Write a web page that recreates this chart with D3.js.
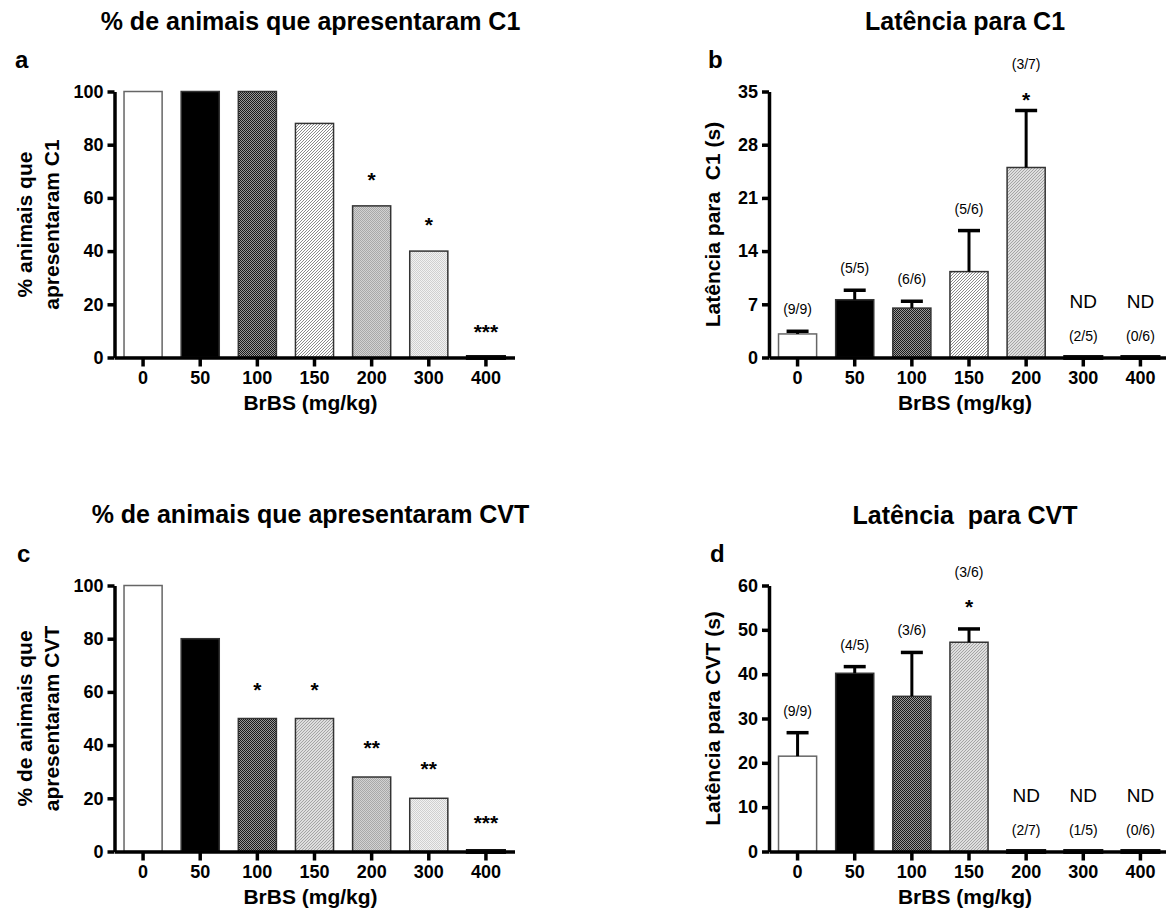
<!DOCTYPE html>
<html>
<head>
<meta charset="utf-8">
<script src="https://cdn.jsdelivr.net/npm/d3@7"></script>
<style>
  body { margin: 0; background: #fff; }
  text { font-family: "Liberation Sans", Arial, sans-serif; fill: #000; white-space: pre; }
</style>
</head>
<body>
<script>
var width = 1166, height = 918;

// data
var doses = ["0", "50", "100", "150", "200", "300", "400"];

var pctC1 = [100, 100, 100, 88, 57, 40, 0];
var sigPctC1 = ["", "", "", "", "*", "*", "***"];

var latC1 = [3.1, 7.6, 6.5, 11.3, 25, 0, 0];
var semLatC1 = [0.35, 1.25, 0.9, 5.4, 7.5, 0, 0];
var nLatC1 = ["(9/9)", "(5/5)", "(6/6)", "(5/6)", "(3/7)", "(2/5)", "(0/6)"];
var sigLatC1 = ["", "", "", "", "*", "", ""];
var ndLatC1 = [false, false, false, false, false, true, true];

var pctCVT = [100, 80, 50, 50, 28, 20, 0];
var sigPctCVT = ["", "", "*", "*", "**", "**", "***"];

var latCVT = [21.5, 40.2, 35, 47.2, 0, 0, 0];
var semLatCVT = [5.3, 1.5, 9.9, 3.0, 0, 0, 0];
var nLatCVT = ["(9/9)", "(4/5)", "(3/6)", "(3/6)", "(2/7)", "(1/5)", "(0/6)"];
var sigLatCVT = ["", "", "", "*", "", "", ""];
var ndLatCVT = [false, false, false, false, true, true, true];

var svg = d3.select("body")
.append("svg")
.attr("width", width)
.attr("height", height);

// bar textures
var defs = svg.append("defs");

function checker(id, a, b) {
	var p = defs.append("pattern")
	.attr("id", id)
	.attr("patternUnits", "userSpaceOnUse")
	.attr("width", 2)
	.attr("height", 2);
	p.append("rect").attr("width", 2).attr("height", 2).attr("fill", b);
	p.append("rect").attr("width", 1).attr("height", 1).attr("fill", a);
	p.append("rect").attr("x", 1).attr("y", 1).attr("width", 1).attr("height", 1).attr("fill", a);
}
function hatch(id, bg, fg) {
	var p = defs.append("pattern")
	.attr("id", id)
	.attr("patternUnits", "userSpaceOnUse")
	.attr("width", 3)
	.attr("height", 3);
	p.append("rect").attr("width", 3).attr("height", 3).attr("fill", bg);
	p.append("path")
	.attr("d", "M-1,1 l2,-2 M0,3 l3,-3 M2,4 l2,-2")
	.attr("stroke", fg)
	.attr("stroke-width", 1);
}
checker("checker", "#1a1a1a", "#999");
hatch("hatch", "#fff", "#8a8a8a");
hatch("grayHatch", "#dedede", "#a4a4a4");
checker("grayFine", "#a8a8a8", "#d2d2d2");
checker("lightDots", "#d0d0d0", "#f2f2f2");

var fillOf = {
	white: "#fff", black: "#000", checker: "url(#checker)", hatch: "url(#hatch)",
	grayHatch: "url(#grayHatch)", grayFine: "url(#grayFine)", lightDots: "url(#lightDots)"
};

function drawPanel(o) {
	var g = svg.append("g");

	var x = d3.scaleBand()
	.domain(doses)
	.range([o.left, o.left + 400])
	.paddingInner(1 / 3)
	.paddingOuter(1 / 6);

	var y = d3.scaleLinear()
	.domain([0, o.max])
	.range([o.bottom, o.bottom - 266]);

	var bw = x.bandwidth();
	var rows = o.values.map(function(v, i) { return {dose: doses[i], v: v, i: i}; });

	// bars
	g.selectAll(".bar")
	.data(rows.filter(function(d) { return d.v > 0; }))
	.enter()
	.append("rect")
	.attr("class", "bar")
	.attr("x", function(d) { return x(d.dose); })
	.attr("y", function(d) { return y(d.v); })
	.attr("width", bw)
	.attr("height", function(d) { return y(0) - y(d.v); })
	.attr("fill", function(d) { return fillOf[o.fills[d.i]]; })
	.attr("stroke", function(d) { return d.i === 0 ? "#666" : "#333"; })
	.attr("stroke-width", 1.5);

	// zero bars sit on the axis as a thick segment
	g.selectAll(".zeroBar")
	.data(rows.filter(function(d) { return d.v === 0; }))
	.enter()
	.append("line")
	.attr("class", "zeroBar")
	.attr("x1", function(d) { return x(d.dose) - 1; })
	.attr("x2", function(d) { return x(d.dose) + bw + 1; })
	.attr("y1", y(0)).attr("y2", y(0))
	.attr("stroke", "#111")
	.attr("stroke-width", 5);

	// error bars (upper only)
	if (o.err) {
		rows.forEach(function(d) {
			var e = o.err[d.i];
			if (!e) return;
			var cx = x(d.dose) + bw / 2;
			g.append("line")
			.attr("x1", cx).attr("x2", cx)
			.attr("y1", y(d.v)).attr("y2", y(d.v + e))
			.attr("stroke", "#000").attr("stroke-width", 3);
			g.append("line")
			.attr("x1", cx - 11).attr("x2", cx + 11)
			.attr("y1", y(d.v + e)).attr("y2", y(d.v + e))
			.attr("stroke", "#000").attr("stroke-width", 3.5);
		});
	}

	// axes
	var yAxis = g.append("g")
	.attr("transform", "translate(" + o.left + ",0)")
	.call(d3.axisLeft(y)
		.tickValues(d3.range(0, o.max + 0.001, o.step))
		.tickSize(7)
		.tickSizeOuter(0)
		.tickPadding(4));

	var xAxis = g.append("g")
	.attr("transform", "translate(0," + o.bottom + ")")
	.call(d3.axisBottom(x)
		.tickSize(9)
		.tickSizeOuter(0)
		.tickPadding(5));

	[yAxis, xAxis].forEach(function(a) {
		a.select(".domain").attr("stroke", "#000").attr("stroke-width", 3.5);
		a.selectAll(".tick line").attr("stroke", "#000").attr("stroke-width", 3.5);
		a.selectAll(".tick text")
		.attr("fill", "#000")
		.style("font-family", "'Liberation Sans', Arial, sans-serif")
		.style("font-size", "18px")
		.style("font-weight", "bold");
	});

	// annotations above bars
	rows.forEach(function(d) {
		var cx = x(d.dose) + bw / 2;
		var top = y(d.v + (o.err ? o.err[d.i] : 0));
		if (o.nd && o.nd[d.i]) {
			g.append("text").attr("x", cx).attr("y", y(0) - 57 + 7)
			.attr("text-anchor", "middle").style("font-size", "19px").text("ND");
		}
		if (o.n) {
			var nOff = o.sig[d.i] ? o.nSigOff : 22;
			g.append("text").attr("x", cx).attr("y", top - nOff + 5)
			.attr("text-anchor", "middle").style("font-size", "14px").text(o.n[d.i]);
		}
		if (o.sig[d.i]) {
			g.append("text").attr("x", cx).attr("y", top - o.sigOff + 12)
			.attr("text-anchor", "middle")
			.style("font-size", "21px").style("font-weight", "bold")
			.text(o.sig[d.i]);
		}
	});

	// titles
	var cxAxis = o.left + 196;
	g.append("text")
	.attr("x", cxAxis).attr("y", o.titleY)
	.attr("text-anchor", "middle")
	.style("font-size", "25px").style("font-weight", "bold")
	.text(o.title);

	g.append("text")
	.attr("x", o.letterX).attr("y", o.bottom - 290)
	.style("font-size", "24px").style("font-weight", "bold")
	.text(o.letter);

	g.append("text")
	.attr("x", cxAxis).attr("y", o.bottom + 52)
	.attr("text-anchor", "middle")
	.style("font-size", "21px").style("font-weight", "bold")
	.text("BrBS (mg/kg)");

	var midY = o.bottom - 133;
	o.yTitle.forEach(function(line, k) {
		g.append("text")
		.attr("transform", "translate(" + (o.yTitleX + 27 * k) + "," + midY + ") rotate(-90)")
		.attr("text-anchor", "middle")
		.style("font-size", "21px").style("font-weight", "bold")
		.text(line);
	});
}

drawPanel({
	left: 114.5, bottom: 357.5, max: 100, step: 20,
	values: pctC1, sig: sigPctC1, sigOff: 31,
	fills: ["white", "black", "checker", "hatch", "grayFine", "lightDots"],
	title: "% de animais que apresentaram C1", titleY: 30,
	letter: "a", letterX: 15,
	yTitle: ["% animais que", "apresentaram C1"], yTitleX: 32
});

drawPanel({
	left: 769, bottom: 357.5, max: 35, step: 7,
	values: latC1, err: semLatC1, n: nLatC1, sig: sigLatC1, nd: ndLatC1,
	sigOff: 16, nSigOff: 47,
	fills: ["white", "black", "checker", "hatch", "grayHatch"],
	title: "Latência para C1", titleY: 30,
	letter: "b", letterX: 708,
	yTitle: ["Latência para  C1 (s)"], yTitleX: 720
});

drawPanel({
	left: 114.5, bottom: 851.5, max: 100, step: 20,
	values: pctCVT, sig: sigPctCVT, sigOff: 34,
	fills: ["white", "black", "checker", "grayHatch", "grayFine", "lightDots"],
	title: "% de animais que apresentaram CVT", titleY: 523,
	letter: "c", letterX: 17,
	yTitle: ["% de animais que", "apresentaram CVT"], yTitleX: 32
});

drawPanel({
	left: 769, bottom: 851.5, max: 60, step: 10,
	values: latCVT, err: semLatCVT, n: nLatCVT, sig: sigLatCVT, nd: ndLatCVT,
	sigOff: 27, nSigOff: 57,
	fills: ["white", "black", "checker", "grayHatch"],
	title: "Latência  para CVT", titleY: 524,
	letter: "d", letterX: 710,
	yTitle: ["Latência para CVT (s)"], yTitleX: 720
});
</script>
</body>
</html>
